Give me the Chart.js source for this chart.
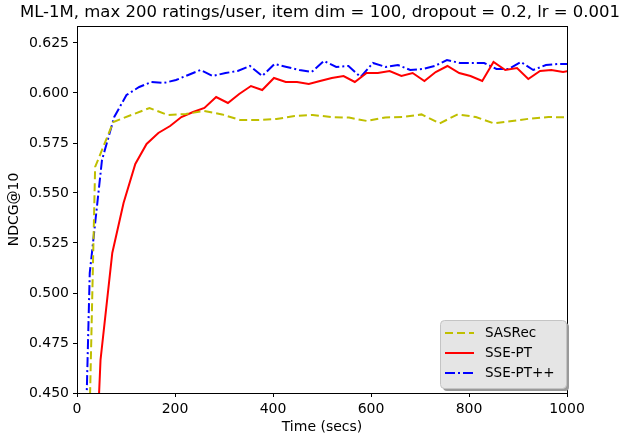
<!DOCTYPE html>
<html>
<head>
<meta charset="utf-8">
<script src="https://cdn.jsdelivr.net/npm/chart.js@4/dist/chart.umd.min.js"></script>
<style>
html,body{margin:0;padding:0;background:#fff;}
#wrap{width:622px;height:438px;position:relative;}
</style>
</head>
<body>
<div id="wrap"><canvas id="c" width="622" height="438"></canvas></div>
<script>
// ---- data ----
const titleText = "ML-1M, max 200 ratings/user, item dim = 100, dropout = 0.2, lr = 0.001";
const xLabel = "Time (secs)";
const yLabel = "NDCG@10";
const seriesNames = ["SASRec", "SSE-PT", "SSE-PT++"];
const xTicks = [0, 200, 400, 600, 800, 1000];
const yTicks = [0.450, 0.475, 0.500, 0.525, 0.550, 0.575, 0.600, 0.625];

const sasrecX = [0, 37, 74, 111, 148, 185, 222, 259, 296, 333, 370, 407, 444, 481, 518, 555, 592, 629, 666, 703, 740, 777, 814, 851, 888, 925, 962, 999];
const sasrecY = [0.155, 0.563, 0.5855, 0.589, 0.5925, 0.589, 0.5895, 0.591, 0.5893, 0.5865, 0.5865, 0.587, 0.5885, 0.589, 0.588, 0.5877, 0.586, 0.5878, 0.588, 0.5893, 0.5848, 0.5893, 0.588, 0.5848, 0.586, 0.5872, 0.588, 0.5878];

const ssePtX = [24, 48, 72, 95, 119, 142, 166, 190, 213, 237, 260, 284, 308, 331, 355, 378, 402, 426, 449, 473, 496, 520, 544, 567, 591, 614, 638, 662, 685, 709, 732, 756, 780, 803, 827, 850, 874, 898, 921, 945, 968, 992, 1016];
const ssePtY = [0.33, 0.4665, 0.520, 0.545, 0.5645, 0.5745, 0.580, 0.5835, 0.588, 0.5905, 0.5925, 0.598, 0.595, 0.5995, 0.6035, 0.6015, 0.6075, 0.6055, 0.6055, 0.6045, 0.606, 0.6075, 0.6085, 0.6055, 0.610, 0.610, 0.611, 0.6085, 0.610, 0.606, 0.6105, 0.6135, 0.610, 0.6085, 0.606, 0.6155, 0.6115, 0.6125, 0.607, 0.611, 0.6115, 0.6105, 0.6115];

const ssePtPPX = [1, 26, 51, 76, 101, 127, 152, 177, 202, 227, 252, 277, 303, 328, 353, 378, 403, 428, 454, 479, 504, 529, 554, 579, 604, 630, 655, 680, 705, 730, 755, 781, 806, 831, 856, 881, 906, 931, 957, 982, 1007];
const ssePtPPY = [0.265, 0.51, 0.5665, 0.588, 0.599, 0.603, 0.6055, 0.605, 0.6065, 0.609, 0.6115, 0.6085, 0.610, 0.611, 0.6135, 0.6085, 0.6145, 0.613, 0.6115, 0.6105, 0.616, 0.613, 0.6135, 0.608, 0.615, 0.613, 0.614, 0.6115, 0.612, 0.6135, 0.6165, 0.615, 0.615, 0.615, 0.612, 0.612, 0.6155, 0.6115, 0.614, 0.6145, 0.6145];

const colors = ["#bfbf00", "#ff0000", "#0000ff"];
const dashes = [[8, 4], [], [10, 3, 2, 3]];

function pts(xs, ys) { return xs.map((x, i) => ({ x: x, y: ys[i] })); }
const allX = [sasrecX, ssePtX, ssePtPPX];
const allY = [sasrecY, ssePtY, ssePtPPY];

const FONT = "'DejaVu Sans', sans-serif";

const frame = {
  id: 'frame',
  afterDatasetsDraw(chart) {
    const { ctx, chartArea: a } = chart;
    ctx.save();
    ctx.strokeStyle = '#000';
    ctx.lineWidth = 1;
    ctx.strokeRect(Math.round(a.left) + 0.5, Math.round(a.top) + 0.5, Math.round(a.right - a.left), Math.round(a.bottom - a.top));
    ctx.restore();
  }
};

const titleDraw = {
  id: 'titleDraw',
  afterDraw(chart) {
    const ctx = chart.ctx;
    ctx.save();
    ctx.fillStyle = '#000';
    ctx.font = "16.5px " + FONT;
    ctx.textAlign = 'center';
    ctx.textBaseline = 'middle';
    ctx.fillText(titleText, 320, 13);
    ctx.restore();
  }
};

const legendBox = {
  id: 'legendBox',
  afterDraw(chart) {
    const ctx = chart.ctx;
    const x0 = 440, y0 = 320, w = 126, h = 68, r = 4;
    ctx.save();
    function rr(x, y) {
      ctx.beginPath();
      ctx.moveTo(x + r, y);
      ctx.lineTo(x + w - r, y);
      ctx.quadraticCurveTo(x + w, y, x + w, y + r);
      ctx.lineTo(x + w, y + h - r);
      ctx.quadraticCurveTo(x + w, y + h, x + w - r, y + h);
      ctx.lineTo(x + r, y + h);
      ctx.quadraticCurveTo(x, y + h, x, y + h - r);
      ctx.lineTo(x, y + r);
      ctx.quadraticCurveTo(x, y, x + r, y);
      ctx.closePath();
    }
    rr(x0 + 3, y0 + 3);
    ctx.fillStyle = '#9a9a9a';
    ctx.fill();
    rr(x0 + 0.5, y0 + 0.5);
    ctx.fillStyle = '#e5e5e5';
    ctx.fill();
    ctx.strokeStyle = '#c4c4c4';
    ctx.lineWidth = 1;
    ctx.stroke();
    chart.data.datasets.forEach((ds, i) => {
      const yy = 333 + i * 20;
      ctx.beginPath();
      ctx.setLineDash(ds.borderDash || []);
      ctx.strokeStyle = ds.borderColor;
      ctx.lineWidth = 2;
      ctx.moveTo(445, yy);
      ctx.lineTo(474, yy);
      ctx.stroke();
      ctx.setLineDash([]);
      ctx.fillStyle = '#000';
      ctx.font = "13.5px " + FONT;
      ctx.textBaseline = 'middle';
      ctx.textAlign = 'left';
      ctx.fillText(ds.label, 485, yy);
    });
    ctx.restore();
  }
};

new Chart(document.getElementById('c'), {
  type: 'line',
  data: {
    datasets: seriesNames.map((n, i) => ({
      label: n,
      data: pts(allX[i], allY[i]),
      borderColor: colors[i],
      backgroundColor: colors[i],
      borderDash: dashes[i],
      borderWidth: 2,
      pointRadius: 0,
      tension: 0,
      fill: false,
      clip: 0
    }))
  },
  options: {
    responsive: false,
    animation: false,
    devicePixelRatio: 1,
    layout: { padding: { left: 0, right: 55, top: 26, bottom: 0 } },
    plugins: {
      legend: { display: false },
      tooltip: { enabled: false },
      title: { display: false }
    },
    scales: {
      x: {
        type: 'linear',
        min: 0, max: 1000,
        afterBuildTicks: (s) => { s.ticks = xTicks.map(v => ({ value: v })); },
        afterFit: (s) => { s.height = 45; },
        ticks: { color: '#000', font: { family: FONT, size: 14 }, padding: 4, maxRotation: 0, callback: (v) => String(v) },
        grid: { drawOnChartArea: false, drawTicks: true, tickLength: 4, color: '#000' },
        border: { display: true, color: '#000', width: 1 },
        title: { display: true, text: xLabel, color: '#000', font: { family: FONT, size: 14 }, padding: { top: 0, bottom: 2 } }
      },
      y: {
        type: 'linear',
        min: 0.450, max: 0.6335,
        afterBuildTicks: (s) => { s.ticks = yTicks.map(v => ({ value: v })); },
        afterFit: (s) => { s.width = 77; },
        ticks: { color: '#000', font: { family: FONT, size: 14 }, padding: 4, callback: (v) => v.toFixed(3) },
        grid: { drawOnChartArea: false, drawTicks: true, tickLength: 4, color: '#000' },
        border: { display: true, color: '#000', width: 1 },
        title: { display: true, text: yLabel, color: '#000', font: { family: FONT, size: 14 }, padding: { top: 6, bottom: 0 } }
      }
    }
  },
  plugins: [frame, legendBox, titleDraw]
});
</script>
</body>
</html>
